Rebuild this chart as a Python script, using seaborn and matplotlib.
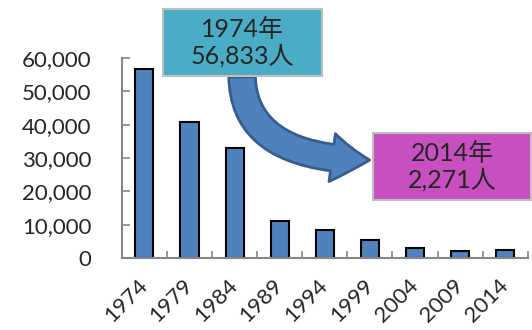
import pandas as pd
import seaborn as sns
import matplotlib.pyplot as plt
from matplotlib.patches import Rectangle, FancyArrowPatch
from matplotlib.ticker import FuncFormatter, FixedLocator

# データ
years = ["1974", "1979", "1984", "1989", "1994", "1999", "2004", "2009", "2014"]
counts = [56833, 40800, 33000, 11100, 8500, 5400, 3000, 2100, 2271]
box_first = "1974年\n56,833人"
box_last = "2014年\n2,271人"

sns.set_style("white")
plt.rcParams['font.family'] = ['Lato', 'Noto Sans CJK JP', 'DejaVu Sans']

df = pd.DataFrame({"year": years, "count": counts})

fig = plt.figure(figsize=(5.32, 3.30), dpi=100)
ax = fig.add_axes([0.229, 0.218, 0.763, 0.606])

sns.barplot(data=df, x="year", y="count", color="#4F81BD", saturation=1,
            width=0.4, edgecolor="black", linewidth=1.5, ax=ax)

ax.set_ylim(0, 60000)
ax.set_xlim(-0.5, len(years) - 0.5)
ax.set_yticks(range(0, 60001, 10000))
ax.yaxis.set_major_formatter(FuncFormatter(lambda v, p: f"{int(v):,}"))
ax.set_xlabel("")
ax.set_ylabel("")

for s in ["top", "right"]:
    ax.spines[s].set_visible(False)
for s in ["left", "bottom"]:
    ax.spines[s].set_color("#868686")
    ax.spines[s].set_linewidth(1.5)

ax.tick_params(axis="y", direction="in", length=6, width=1.2, color="#868686",
               labelsize=16, pad=22, left=True)
ax.tick_params(axis="x", which="major", bottom=False, labelsize=16, pad=14)
ax.xaxis.set_minor_locator(FixedLocator([i + 0.5 for i in range(len(years))]))
ax.tick_params(axis="x", which="minor", direction="in", length=5, width=1.2,
               color="#868686", bottom=True)
plt.setp(ax.get_xticklabels(), rotation=45, ha="right", va="center",
         rotation_mode="anchor")

# 矢印
arrow = FancyArrowPatch((0.455, 0.775), (0.700, 0.515),
                        transform=fig.transFigure,
                        connectionstyle="angle3,angleA=-90,angleB=0",
                        arrowstyle="simple,head_length=0.45,head_width=0.58,tail_width=0.32",
                        mutation_scale=60, facecolor="#4F81BD", edgecolor="#385D8A",
                        linewidth=2, zorder=2)
fig.patches.append(arrow)

# ボックス
fig.patches.append(Rectangle((0.306, 0.770), 0.299, 0.203, transform=fig.transFigure,
                             facecolor="#4BACC6", edgecolor="#BFBFBF", linewidth=1.5,
                             zorder=3))
fig.text(0.4555, 0.8715, box_first, ha="center", va="center", fontsize=18,
         linespacing=1.15, zorder=4)

fig.patches.append(Rectangle((0.701, 0.394), 0.297, 0.203, transform=fig.transFigure,
                             facecolor="#C84FC0", edgecolor="#BFBFBF", linewidth=1.5,
                             zorder=3))
fig.text(0.8495, 0.4955, box_last, ha="center", va="center", fontsize=18,
         linespacing=1.15, zorder=4)

fig.savefig("out.png", dpi=100)
